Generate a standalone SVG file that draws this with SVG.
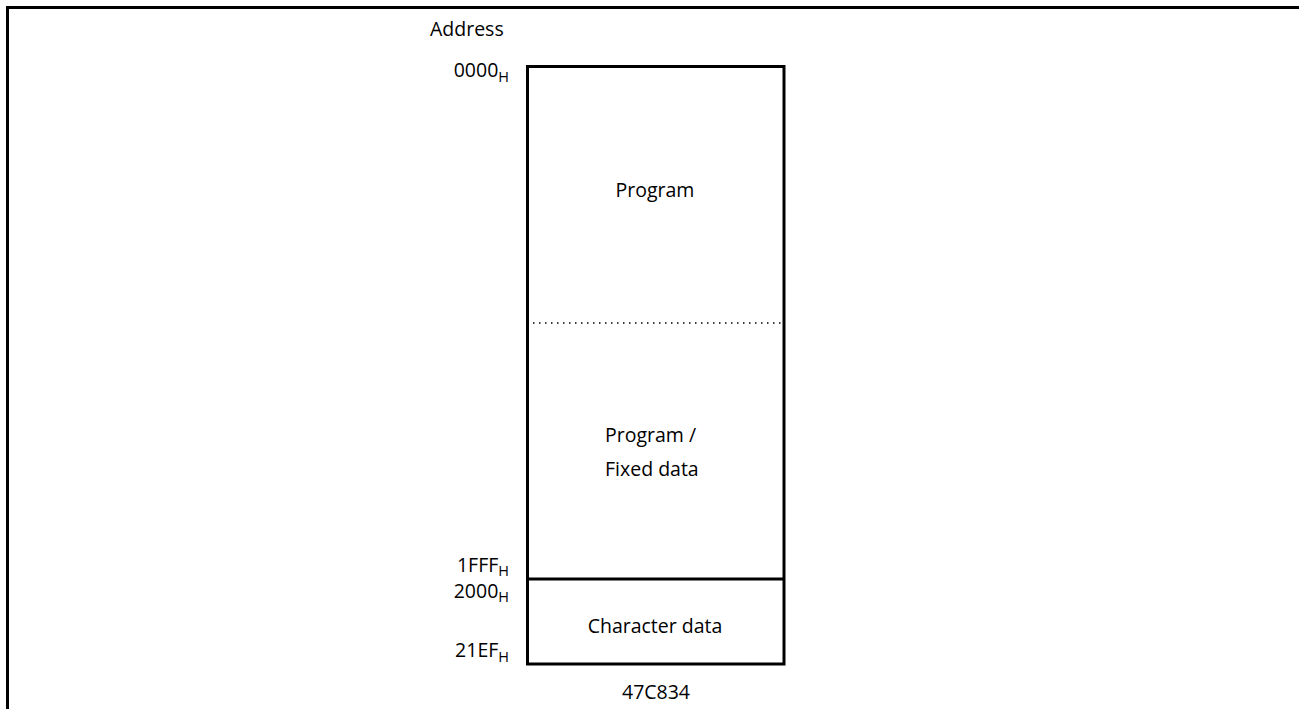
<svg xmlns="http://www.w3.org/2000/svg" width="1299" height="709" viewBox="0 0 1299 709">
<style>
text{font-family:"Open Sans","Noto Sans","DejaVu Sans",sans-serif;font-size:19.5px;fill:#000}
.sub{font-size:14.5px}
.r{text-anchor:end}
.c{text-anchor:middle}
.thick{stroke:#000;stroke-width:3;fill:none}
</style>
<rect width="1299" height="709" fill="#fff"/>
<path d="M7.5,709 V7.5 H1299" stroke="#000" stroke-width="3" fill="none"/>
<text x="430" y="36">Address</text>
<g id="mem">
<rect class="thick" x="527.5" y="66.5" width="256.5" height="597.5"/>
<line class="thick" x1="527.5" y1="579" x2="784" y2="579"/>
<line x1="533" y1="323" x2="782" y2="323" stroke="#000" stroke-width="1.5" stroke-dasharray="1.5,4.5"/>
</g>
<g id="prog"><text class="c" x="655" y="197">Program</text></g>
<g id="fixed"><text x="605" y="442">Program /</text><text x="605" y="476">Fixed data</text></g>
<g id="char"><text class="c" x="655" y="633">Character data</text></g>
<g id="labels">
<text class="r" x="509" y="77">0000<tspan class="sub" dy="4.5">H</tspan></text>
<text class="r" x="509" y="572">1FFF<tspan class="sub" dy="4">H</tspan></text>
<text class="r" x="509" y="598">2000<tspan class="sub" dy="4">H</tspan></text>
<text class="r" x="509" y="657">21EF<tspan class="sub" dy="4.5">H</tspan></text>
<text class="c" x="656" y="699">47C834</text>
</g>
</svg>
